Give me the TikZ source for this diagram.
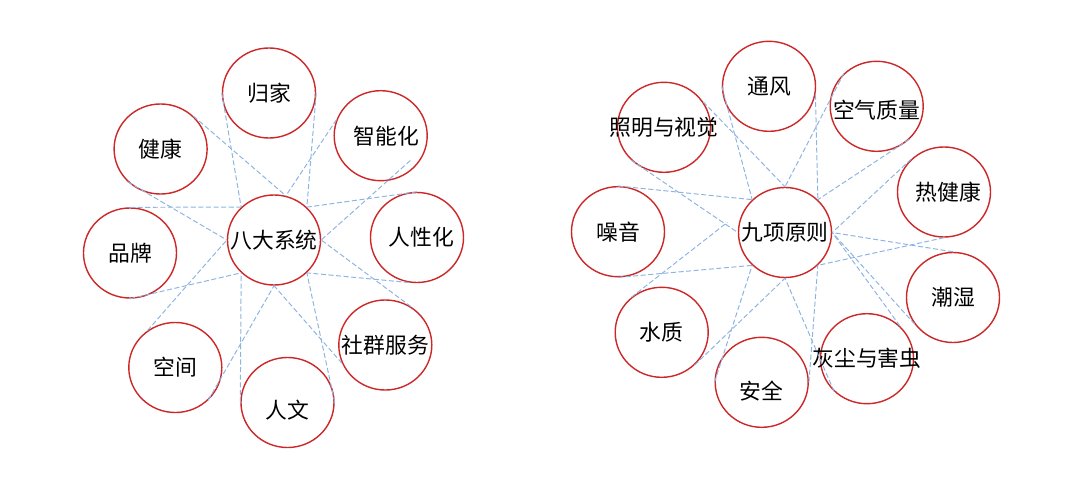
\documentclass[tikz,border=0pt]{standalone}
\usepackage{fontspec}
\setmainfont{Noto Sans CJK SC}
\usetikzlibrary{shapes.geometric,calc}
\definecolor{ringred}{RGB}{204,40,40}
\definecolor{linkblue}{RGB}{141,180,226}

\begin{document}
\begin{tikzpicture}[x=0.025cm,y=-0.025cm,font=\fontsize{15.5}{18}\selectfont,
  bub/.style={ellipse,draw=ringred,line width=1pt,minimum width=2.325cm,minimum height=2.25cm,inner sep=0pt},
  link/.style={draw=linkblue,line width=0.7pt,dash pattern=on 3.6pt off 1.8pt}]
  \useasboundingbox (0,0) rectangle (1080,500);
  % eight systems
  \node[bub,label={center:八大系统}] (c) at (274,240) {};
  \node[bub,label={center:归家}] (gj) at (269,93) {};
  \node[bub,label={center:健康}] (jk) at (160.6,149) {};
  \node[bub,label={[xshift=4pt]center:智能化}] (zn) at (380.7,135.7) {};
  \node[bub,label={center:品牌}] (pp) at (130,253) {};
  \node[bub,label={[xshift=3.3pt]center:人性化}] (rx) at (417,237.5) {};
  \node[bub,label={center:空间}] (kj) at (175.3,367.5) {};
  \node[bub,label={[yshift=-5.3pt]center:人文}] (rw) at (287.5,402.5) {};
  \node[bub,label={center:社群服务}] (sq) at (385.3,345) {};
  \draw[link] (gj.180)--(c.135) (gj.0)--(c.45);
  \draw[link] (jk.45)--(c.75) (jk.225)--(c.180);
  \draw[link] (zn.160)--(c.75) ($(zn.center)!.83!(zn.-40)$)--(c.0);
  \draw[link] (rx.90)--(c.45) (rx.-100)--(c.-45);
  \draw[link] (sq.56)--(c.0) (sq.203)--(c.-90);
  \draw[link] (rw.180)--(c.225) (rw.0)--(c.-45);
  \draw[link] (kj.-45)--(c.-90) (kj.127)--(c.180);
  \draw[link] (pp.90)--(c.135) (pp.270)--(c.225);
  % nine principles
  \node[bub,label={center:九项原则}] (r) at (785,232.5) {};
  \node[bub,label={center:通风}] (tf) at (769,86.3) {};
  \node[bub,label={[yshift=-3pt]center:空气质量}] (kq) at (876.7,106.3) {};
  \node[bub,label={center:照明与视觉}] (zm) at (664,127.3) {};
  \node[bub,label={[xshift=3pt]center:热健康}] (rj) at (944,192) {};
  \node[bub,label={center:噪音}] (zy) at (618,231.7) {};
  \node[bub,label={center:潮湿}] (cs) at (953,297.5) {};
  \node[bub,label={center:水质}] (sz) at (661.7,332.3) {};
  \node[bub,label={[yshift=-6pt]center:安全}] (aq) at (761.7,382.3) {};
  \node[bub,label={center:灰尘与害虫}] (hc) at (867,358.7) {};
  \draw[link] (tf.180)--(r.135) (tf.-10)--(r.45);
  \draw[link] (zm.33)--(r.90) (zm.225)--(r.180);
  \draw[link] (kq.135)--(r.90) (kq.-45)--(r.45);
  \draw[link] (rj.135)--(r.0) (rj.270)--(r.-45);
  \draw[link] (cs.90)--(r.0) (cs.215)--(r.0);
  \draw[link] (hc.45)--(r.0) (hc.225)--(r.-90);
  \draw[link] (aq.180)--(r.225) (aq.0)--(r.-45);
  \draw[link] (sz.-45)--(r.-90) (sz.131)--($(r.center)!1.24!(r.170)$);
  \draw[link] (zy.90)--(r.135) (zy.270)--(r.225);
\end{tikzpicture}
\end{document}
